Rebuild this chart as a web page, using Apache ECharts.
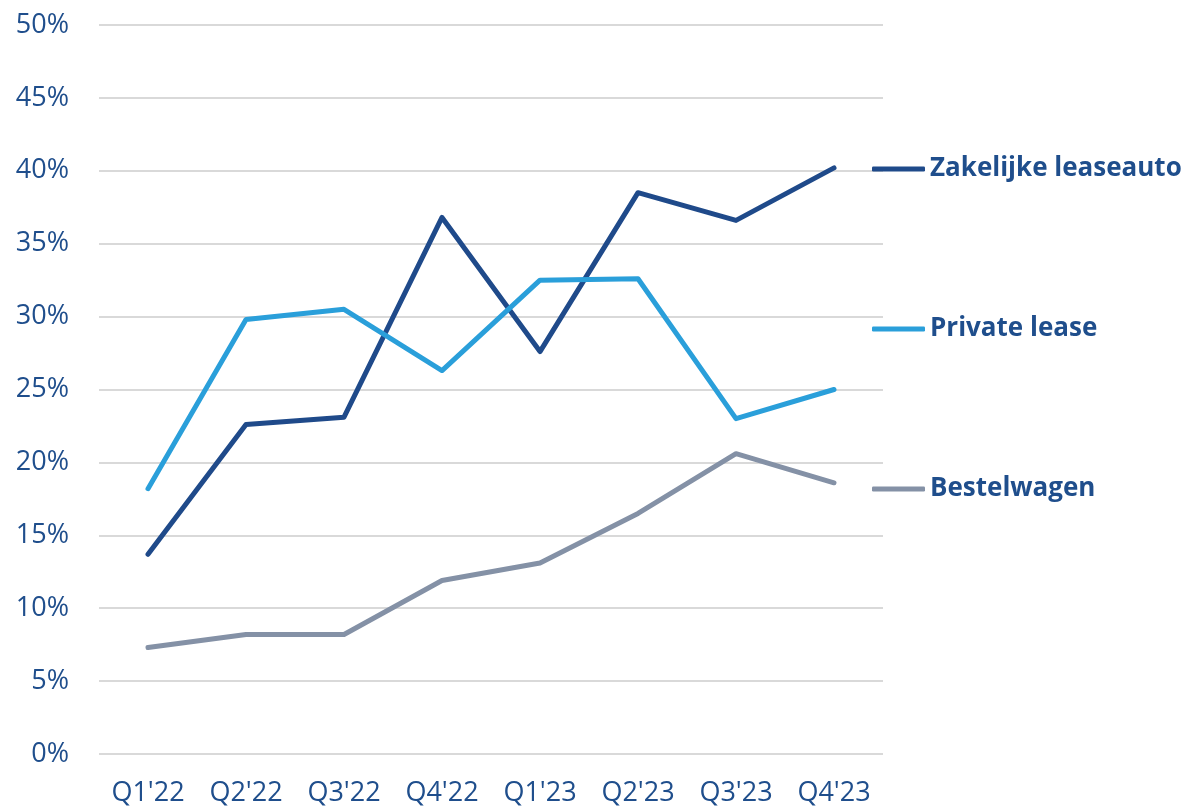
<!DOCTYPE html>
<html>
<head>
<meta charset="utf-8">
<script src="https://cdn.jsdelivr.net/npm/echarts@6/dist/echarts.min.js"></script>
<style>
  html, body { margin: 0; padding: 0; background: #fff; }
  #main { width: 1191px; height: 807px; }
</style>
</head>
<body>
<div id="main"></div>
<script>
// kwartalen
var categories = ["Q1'22", "Q2'22", "Q3'22", "Q4'22", "Q1'23", "Q2'23", "Q3'23", "Q4'23"];
// percentages per type
var zakelijk = [13.7, 22.6, 23.1, 36.8, 27.6, 38.5, 36.6, 40.2];
var privateLease = [18.2, 29.8, 30.5, 26.3, 32.5, 32.6, 23.0, 25.0];
var bestelwagen = [7.3, 8.2, 8.2, 11.9, 13.1, 16.5, 20.6, 18.6];
var seriesNames = ["Zakelijke leaseauto", "Private lease", "Bestelwagen"];

var textColor = "#1F4E8C";
var fontFam = "'Open Sans', 'Liberation Sans', sans-serif";

var myChart = echarts.init(document.getElementById("main"));

function lineSeries(name, data, color) {
  return {
    name: name,
    type: "line",
    data: data,
    symbol: "none",
    color: color,
    lineStyle: { width: 5, color: color, cap: "round", join: "round" },
    emphasis: { disabled: true },
  };
}

var option = {
  animation: false,
  grid: { left: 99, right: 308, top: 25, bottom: 53 },
  legend: {
    orient: "vertical",
    left: 872,
    top: 154,
    padding: 0,
    itemGap: 130,
    icon: "roundRect",
    itemWidth: 53,
    itemHeight: 5,
    selectedMode: false,
    data: seriesNames,
    textStyle: {
      color: textColor,
      fontFamily: fontFam,
      fontSize: 26,
      fontWeight: "bold",
      lineHeight: 30,
      padding: [0, 0, 0, 0],
    },
  },
  xAxis: {
    type: "category",
    data: categories,
    boundaryGap: true,
    axisLine: { show: false },
    axisTick: { show: false },
    axisLabel: {
      interval: 0,
      color: textColor,
      fontFamily: fontFam,
      fontSize: 27,
      margin: 26,
    },
  },
  yAxis: {
    type: "value",
    min: 0,
    max: 50,
    interval: 5,
    axisLine: { show: false },
    axisTick: { show: false },
    axisLabel: {
      formatter: "{value}%",
      color: textColor,
      fontFamily: fontFam,
      fontSize: 27,
      margin: 30,
    },
    splitLine: { lineStyle: { color: "#D9D9D9", width: 2 } },
  },
  series: [
    lineSeries(seriesNames[0], zakelijk, "#1F4A8A"),
    lineSeries(seriesNames[1], privateLease, "#2A9FDA"),
    lineSeries(seriesNames[2], bestelwagen, "#8491A6"),
  ],
};
myChart.setOption(option);
</script>
</body>
</html>
